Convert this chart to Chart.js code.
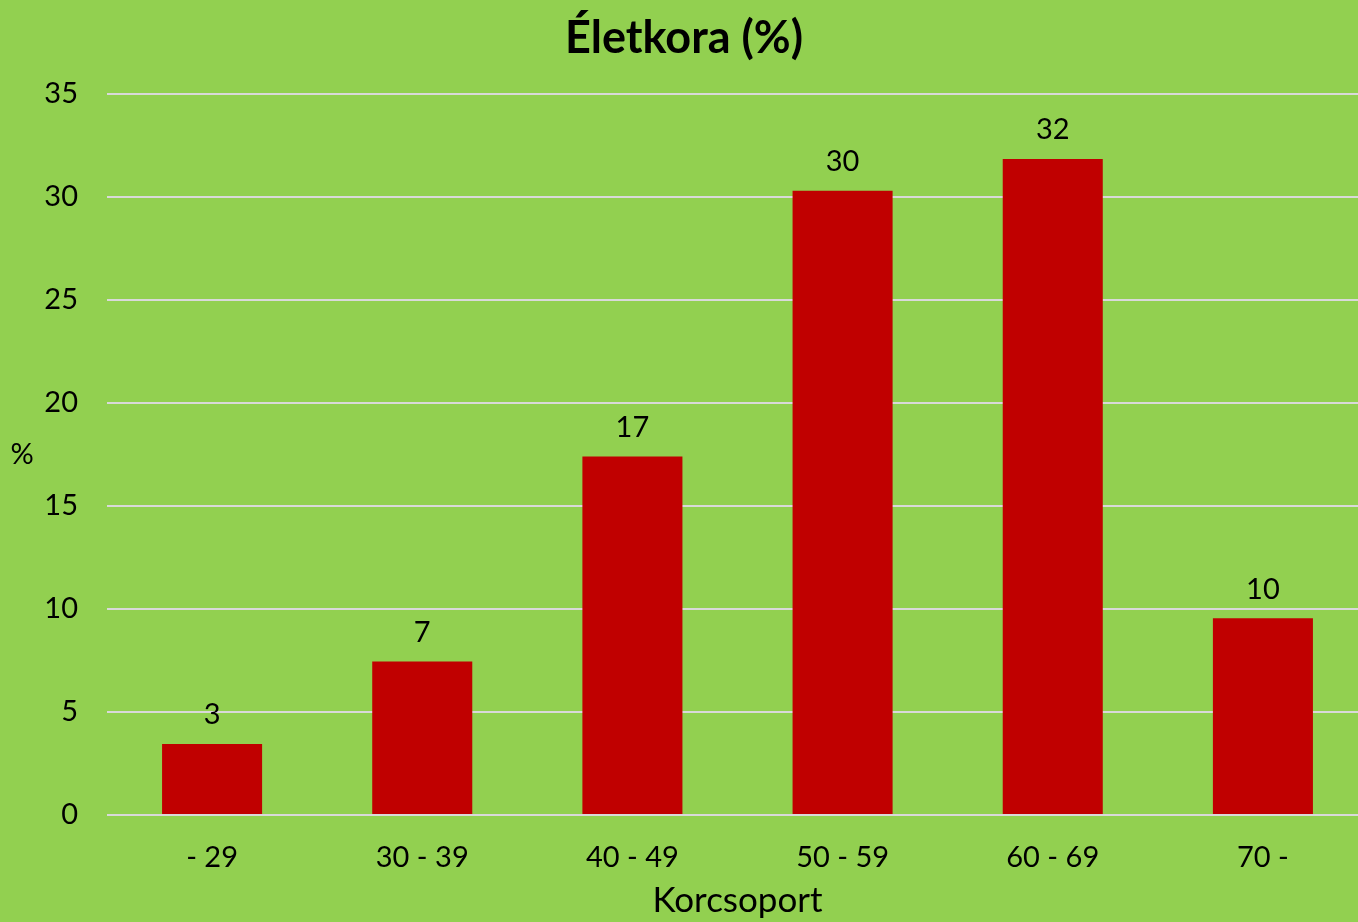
<!DOCTYPE html>
<html>
<head>
<meta charset="utf-8">
<script src="https://cdn.jsdelivr.net/npm/chart.js@4"></script>
<style>
  body { margin: 0; background: #92D050; overflow: hidden; }
  canvas { display: block; }
</style>
</head>
<body>
<canvas id="chart" width="1368" height="922"></canvas>
<script>
// Age groups and share (%)
const categories = ['- 29', '30 - 39', '40 - 49', '50 - 59', '60 - 69', '70 -'];
const values = [3.45, 7.45, 17.4, 30.3, 31.85, 9.55];
const yTicks = [0, 5, 10, 15, 20, 25, 30, 35];

const fontFamily = 'Lato, "Open Sans", sans-serif';

// Draw rounded value above each bar
const barLabels = {
    id: 'barLabels',
    afterDatasetsDraw(chart) {
        const ctx = chart.ctx;
        const meta = chart.getDatasetMeta(0);
        ctx.save();
        ctx.fillStyle = '#000';
        ctx.font = '29px ' + fontFamily;
        ctx.textAlign = 'center';
        ctx.textBaseline = 'middle';
        meta.data.forEach((bar, i) => {
            ctx.fillText(Math.round(values[i]), bar.x, bar.y - 29);
        });
        ctx.restore();
    }
};

// Horizontal "%" axis title on the left
const yTitle = {
    id: 'yTitle',
    afterDraw(chart) {
        const ctx = chart.ctx;
        const area = chart.chartArea;
        ctx.save();
        ctx.fillStyle = '#000';
        ctx.font = '29px ' + fontFamily;
        ctx.textAlign = 'center';
        ctx.textBaseline = 'middle';
        ctx.fillText('%', 22, (area.top + area.bottom) / 2);
        ctx.restore();
    }
};

const ctx = document.getElementById('chart').getContext('2d');
const chart = new Chart(ctx, {
    type: 'bar',
    data: {
        labels: categories,
        datasets: [
            {
                label: 'Életkora',
                data: values,
                backgroundColor: '#C00000',
                borderWidth: 0,
                barPercentage: 0.476,
                categoryPercentage: 1.0
            },
        ],
    },
    options: {
        responsive: false,
        animation: false,
        layout: { padding: 0 },
        plugins: {
            legend: { display: false },
            tooltip: { enabled: false },
            title: {
                display: true,
                text: 'Életkora (%)',
                color: '#000',
                font: { family: fontFamily, size: 45, weight: 'bold', lineHeight: 1.2 },
                padding: { top: 11, bottom: 29 }
            }
        },
        scales: {
            x: {
                grid: { display: false },
                border: { display: false },
                ticks: {
                    color: '#000',
                    font: { family: fontFamily, size: 29 },
                    padding: 17
                },
                title: {
                    display: true,
                    text: 'Korcsoport',
                    color: '#000',
                    font: { family: fontFamily, size: 35 },
                    padding: { top: 0, bottom: 0 }
                },
                afterFit: (scale) => { scale.height = 107; }
            },
            y: {
                min: 0,
                max: 35,
                afterBuildTicks: (scale) => { scale.ticks = yTicks.map(v => ({ value: v })); },
                grid: { color: '#D9D9D9', lineWidth: 2, drawTicks: false },
                border: { display: false },
                ticks: {
                    color: '#000',
                    font: { family: fontFamily, size: 29 },
                    padding: 29
                },
                afterFit: (scale) => { scale.width = 107; }
            },
        },
    },
    plugins: [barLabels, yTitle]
});
</script>
</body>
</html>
